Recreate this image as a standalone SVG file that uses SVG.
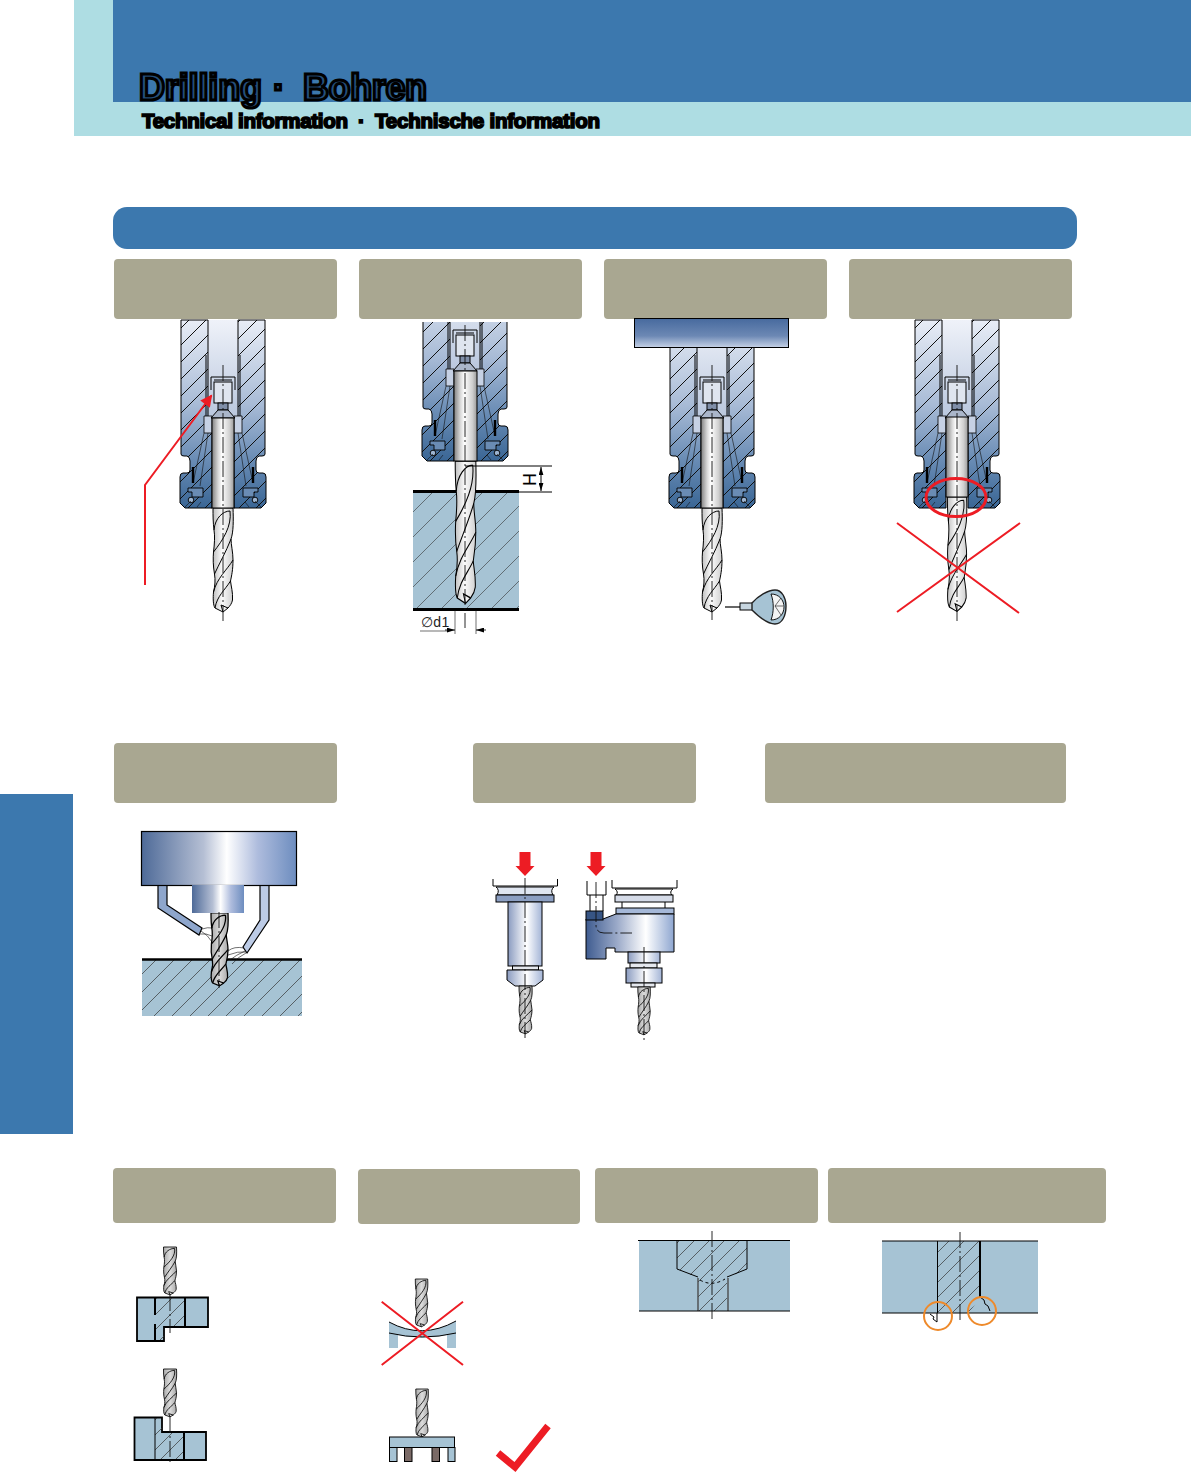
<svg xmlns="http://www.w3.org/2000/svg" width="1191" height="1472" viewBox="0 0 1191 1472">
<style>
text{font-family:"Liberation Sans",Arial,sans-serif}
.ln{fill:none;stroke:#000;stroke-width:1}
.th{fill:none;stroke:#111;stroke-width:.6}
.cl{fill:none;stroke:#111;stroke-width:.9;stroke-dasharray:16 3 2 3}
.ns{vector-effect:non-scaling-stroke}
.red{fill:none;stroke:#ed1c24;stroke-width:2}
.tan{fill:#a9a791}
.wp{fill:#a6c3d4}
.bk{fill:none;stroke:#000;stroke-linecap:butt}
.org{fill:none;stroke:#ee8a2b;stroke-width:2}
</style>
<defs>
<linearGradient id="bodyG" x1="0" y1="0" x2="0" y2="1"><stop offset="0" stop-color="#e8edf6"/><stop offset=".45" stop-color="#a8bbd6"/><stop offset=".75" stop-color="#688bb4"/><stop offset="1" stop-color="#3a6695"/></linearGradient>
<linearGradient id="boreG" x1="0" y1="0" x2="0" y2="1"><stop offset="0" stop-color="#eff2f9"/><stop offset="1" stop-color="#b9c7de"/></linearGradient>
<linearGradient id="shankG" x1="0" y1="0" x2="1" y2="0"><stop offset="0" stop-color="#808080"/><stop offset=".28" stop-color="#d8d8d8"/><stop offset=".45" stop-color="#fff"/><stop offset=".8" stop-color="#cfcfcf"/><stop offset="1" stop-color="#9a9a9a"/></linearGradient>
<linearGradient id="drillG" x1="0" y1="0" x2="1" y2="0"><stop offset="0" stop-color="#c0c0c0"/><stop offset=".45" stop-color="#fbfbfb"/><stop offset="1" stop-color="#cfcfcf"/></linearGradient>
<linearGradient id="drillD" x1="0" y1="0" x2="1" y2="0"><stop offset="0" stop-color="#a8a8a8"/><stop offset=".5" stop-color="#dcdcdc"/><stop offset="1" stop-color="#a8a8a8"/></linearGradient>
<linearGradient id="spinG" x1="0" y1="0" x2="1" y2="0"><stop offset="0" stop-color="#4e6a98"/><stop offset=".4" stop-color="#b5bfd4"/><stop offset=".55" stop-color="#fff"/><stop offset=".75" stop-color="#aebcdd"/><stop offset="1" stop-color="#6d8dbf"/></linearGradient>
<linearGradient id="toolG" x1="0" y1="0" x2="1" y2="0"><stop offset="0" stop-color="#8a9bc0"/><stop offset=".55" stop-color="#fff"/><stop offset="1" stop-color="#a3b4d6"/></linearGradient>
<linearGradient id="armG" x1="0" y1="0" x2="1" y2="0"><stop offset="0" stop-color="#3f5c90"/><stop offset=".35" stop-color="#9aa9c8"/><stop offset=".68" stop-color="#fff"/><stop offset="1" stop-color="#8ea6d0"/></linearGradient>
<linearGradient id="barG" x1="0" y1="0" x2="0" y2="1"><stop offset="0" stop-color="#476a9e"/><stop offset=".6" stop-color="#6c88b4"/><stop offset="1" stop-color="#c6d2e6"/></linearGradient>
<pattern id="h17" patternUnits="userSpaceOnUse" width="17" height="17"><path d="M-1,18 L18,-1" stroke="#111" stroke-width="1" fill="none"/></pattern>
<pattern id="h25" patternUnits="userSpaceOnUse" width="25" height="25"><path d="M-1,26 L26,-1" stroke="#333" stroke-width=".6" fill="none"/></pattern>
<pattern id="h18" patternUnits="userSpaceOnUse" width="18" height="18"><path d="M-1,19 L19,-1" stroke="#333" stroke-width=".7" fill="none"/></pattern>
<pattern id="h15" patternUnits="userSpaceOnUse" width="15" height="15"><path d="M-1,16 L16,-1" stroke="#333" stroke-width=".7" fill="none"/></pattern>
<marker id="ah" viewBox="0 0 10 10" refX="9" refY="5" markerWidth="7" markerHeight="6" orient="auto" markerUnits="strokeWidth"><path d="M0,0 L10,5 L0,10 Z" fill="#ed1c24"/></marker>
<marker id="dim" viewBox="0 0 10 6" refX="10" refY="3" markerWidth="8" markerHeight="5" orient="auto-start-reverse" markerUnits="userSpaceOnUse"><path d="M0,0 L10,3 L0,6 Z" fill="#000"/></marker>
<path id="halfL" d="M-42,0 V134 Q-42,136 -39,136 H-36 Q-33,137 -33,141 V150 Q-33,153 -36,153 H-40 Q-43,153 -43,157 V183 L-38,188 H-11 V98 H-15 V0 Z"/>
<path id="halfR" d="M42,0 V134 Q42,136 39,136 H36 Q33,137 33,141 V150 Q33,153 36,153 H40 Q43,153 43,157 V183 L38,188 H11 V98 H15 V0 Z"/>
<g id="halfD">
<path d="M-17,35 V96" class="ln"/>
<path d="M-19,96 H-11 V113 H-19 Z" fill="#c6d1e4" stroke="#000" stroke-width=".8"/>
<path d="M-19,113 L-30,163 M-15,113 L-23,166" class="th"/>
<path d="M-30,147 V163" stroke="#000" stroke-width="2.4" fill="none"/>
<path d="M-35,168 H-20 V172 H-20 V177 H-31 V172 H-35 Z" fill="#6a8cb4" stroke="#000" stroke-width=".9"/>
<circle cx="-32" cy="180" r="2.8" fill="#9db4d0" stroke="#000" stroke-width=".9"/>
<path d="M-38,187 L-32,181 M-26,187 L-22,182" class="th"/>
</g>
<g id="holder">
<rect x="-15" y="0" width="30" height="98" fill="url(#boreG)"/>
<use href="#halfL" fill="url(#bodyG)"/>
<use href="#halfR" fill="url(#bodyG)"/>
<use href="#halfL" fill="url(#h17)" stroke="#000" stroke-width="1"/>
<use href="#halfR" fill="url(#h17)" stroke="#000" stroke-width="1"/>
<use href="#halfD"/>
<use href="#halfD" transform="scale(-1,1)"/>
<path d="M-12,70 V57 H12 V70 M-9,60 H9" class="ln"/>
<rect x="-9" y="62" width="18" height="21" fill="#dfe5ef" stroke="#000" stroke-width="1"/>
<rect x="-5" y="83" width="10" height="7" fill="#7f8ea8" stroke="#000" stroke-width="1"/>
<path d="M-5,90 L-12,98 H12 L5,90 Z" fill="#aab6ca" stroke="#000" stroke-width="1"/>
</g>
<path id="drillP" d="M-10,0 H10 C10.5,12 10.5,24 8,31 C8,37 10,44 10,52 C10,62 8.5,68 7.5,73 C8,78 10,84 9.5,92 C9,95 7,98 5,100 L0,104 L-8,100 C-10,97 -10,90 -9.5,84 C-8,78 -7.5,72 -8.5,66 C-10,58 -10,50 -9.5,44 C-8.5,36 -8,28 -9,22 C-10,14 -10,8 -10,0 Z"/>
<path id="drillF" d="M7,3 C0,3 -8,10 -9,22 M7,3 C9,18 0,32 -9.5,44 M8,31 C3,44 -4,56 -8.5,66 M10,52 C4,62 -6,70 -9.5,84 M7.5,73 C2,82 -6,88 -8,100 M0,104 L-2,97 L5,100"/>
<g id="drill"><use href="#drillP" fill="url(#drillG)" stroke="#000" stroke-width="1" class="ns"/><use href="#drillF" fill="none" stroke="#000" stroke-width="1" class="ns"/></g>
<g id="drillS"><use href="#drillP" fill="url(#drillD)" stroke="#000" stroke-width="1.5" class="ns"/><use href="#drillF" fill="none" stroke="#000" stroke-width="1.5" class="ns"/></g>
<clipPath id="c2"><rect x="400" y="322" width="140" height="160"/></clipPath>
</defs>

<rect width="1191" height="1472" fill="#fff"/>

<g id="header">
<rect x="74" y="0" width="1117" height="136" fill="#aedde3"/>
<rect x="113" y="0" width="1078" height="102" fill="#3c78ae"/>
<text y="100" font-size="36" font-weight="bold" fill="#254f7c" stroke="#000" stroke-width="3"><tspan x="139" textLength="123">Drilling</tspan><tspan x="273">·</tspan><tspan x="303" textLength="124">Bohren</tspan></text>
<text y="128" font-size="20.5" font-weight="bold" fill="#000" stroke="#000" stroke-width="1.7"><tspan x="142" textLength="206">Technical information</tspan><tspan x="358">·</tspan><tspan x="375" textLength="225">Technische information</tspan></text>
</g>
<rect id="side-tab" x="0" y="794" width="73" height="340" fill="#3c78ae"/>
<rect id="title-bar" x="113" y="207" width="964" height="42" rx="14" fill="#3c78ae"/>

<g id="heads">
<rect class="tan" x="114" y="259" width="223" height="60" rx="4"/>
<rect class="tan" x="359" y="259" width="223" height="60" rx="4"/>
<rect class="tan" x="604" y="259" width="223" height="60" rx="4"/>
<rect class="tan" x="849" y="259" width="223" height="60" rx="4"/>
<rect class="tan" x="114" y="743" width="223" height="60" rx="4"/>
<rect class="tan" x="473" y="743" width="223" height="60" rx="4"/>
<rect class="tan" x="765" y="743" width="301" height="60" rx="4"/>
<rect class="tan" x="113" y="1168" width="223" height="55" rx="4"/>
<rect class="tan" x="358" y="1169" width="222" height="55" rx="4"/>
<rect class="tan" x="595" y="1168" width="223" height="55" rx="4"/>
<rect class="tan" x="828" y="1168" width="278" height="55" rx="4"/>
</g>

<g id="fig1">
<use href="#holder" transform="translate(223,320)"/>
<use href="#drill" transform="translate(223,508)"/>
<rect x="212" y="418" width="22" height="90" fill="url(#shankG)" stroke="#000"/>
<path class="cl" d="M223,365 V622"/>
</g>

<g id="fig2">
<rect class="wp" x="413" y="491" width="106" height="119"/>
<rect x="413" y="491" width="106" height="119" fill="url(#h25)"/>
<path class="bk" stroke-width="3" d="M413,491.5 H519 M413,609.5 H519"/>
<g clip-path="url(#c2)"><use href="#holder" transform="translate(465,273)"/></g>
<use href="#drill" transform="translate(465.5,461) scale(1.03,1.37)"/>
<rect x="454" y="371" width="23" height="90" fill="url(#shankG)" stroke="#000"/>
<path class="cl" d="M465,325 V628"/>
<path class="ln" stroke-width=".8" d="M465,466 H552 M480,492 H552"/>
<path class="ln" stroke-width=".8" d="M541,467 V491" marker-start="url(#dim)" marker-end="url(#dim)"/>
<text font-size="18" transform="translate(536,486) rotate(-90)">H</text>
<path class="th" d="M455,610 V634 M476,610 V634 M420,631 H448"/>
<path class="ln" style="stroke-width:.8" d="M445,630 H455" marker-end="url(#dim)"/>
<path class="ln" style="stroke-width:.8" d="M486,630 H476" marker-end="url(#dim)"/>
<text x="421" y="627" font-size="14" letter-spacing=".3" fill="#222">∅d1</text>
</g>

<g id="fig3">
<use href="#holder" transform="translate(712,320)"/>
<use href="#drill" transform="translate(712,508)"/>
<rect x="701" y="418" width="22" height="90" fill="url(#shankG)" stroke="#000"/>
<path class="cl" d="M712,365 V620"/>
<rect x="634.5" y="318.5" width="154" height="29" fill="url(#barG)" stroke="#000"/>
<path d="M725,607 H740" stroke="#000" stroke-width="1.2" fill="none"/>
<rect x="740" y="603" width="13" height="7" fill="#c7d6e0" stroke="#000"/>
<path d="M752,603 C758,596 768,590 775,590 C782,590 786,598 786,606 C786,616 782,624 775,624 C768,624 758,616 752,610 Z" fill="#a6c3d4" stroke="#222" stroke-width="1.4"/>
<path d="M771,594 C779,594 784,600 784,607 C784,614 779,620 771,620 C774,612 774,602 771,594 Z" fill="#f4f4f4" stroke="#000" stroke-width=".9"/>
<path d="M775,606 L783,606 M775,606 L781,598 M775,606 L781,615" class="th"/>
</g>

<g id="fig4">
<use href="#holder" transform="translate(957,320)"/>
<use href="#drill" transform="translate(957,497) scale(.96,1.1)"/>
<rect x="946" y="417" width="22" height="80" fill="url(#shankG)" stroke="#000"/>
<path class="cl" d="M957,365 V621"/>
<ellipse class="red" style="stroke-width:3" cx="956" cy="497.5" rx="30" ry="19"/>
<path class="red" d="M897,523 L1019,613 M1020,523 L897,612"/>
</g>

<g id="fig5">
<rect class="wp" x="142" y="960" width="160" height="56"/>
<rect x="142" y="960" width="160" height="56" fill="url(#h18)"/>
<path class="bk" stroke-width="2.5" d="M142,959.5 H302"/>
<path d="M158,885 H167 V905 L202,928 L199,935 L158,908 Z" fill="#8ea6cc" stroke="#000" stroke-width="1.2"/>
<path d="M260,885 H269 V920 L247,953 L243,947 L260,920 Z" fill="#bccbe6" stroke="#000" stroke-width="1.2"/>
<path class="th" d="M202,929 Q208,927 212,928 M200,934 Q206,933 212,936 M201,931 Q208,935 212,942 M244,948 Q234,946 228,951 M246,952 Q238,951 228,955 M245,951 Q236,955 230,960 M246,953 Q238,957 232,964"/>
<use href="#drillS" transform="translate(219.5,913) scale(.85,.7)"/>
<rect x="141.5" y="831.5" width="155" height="54" fill="url(#spinG)" stroke="#000" stroke-width="1.2"/>
<rect x="192" y="885" width="52" height="28" fill="url(#spinG)"/>
<path class="cl" d="M219,912 V988"/>
</g>

<g id="fig6">
<path d="M525,852 m-5.5,0 h11 v14 h4 l-9.5,10 l-9.5,-10 h4 z" fill="#ed1c24"/>
<path class="ln" d="M493,879 V886 H557.5 V879"/>
<path d="M496,887 Q500,890 497,895 H553 Q550,890 554,887 Z" fill="#dfe5f0" stroke="#000"/>
<rect x="496" y="895" width="58" height="7" fill="#8c9fc2" stroke="#000"/>
<rect x="508" y="902" width="34" height="64" fill="url(#toolG)" stroke="#000"/>
<rect x="512.5" y="966" width="26" height="4" fill="#e5e8ee" stroke="#000"/>
<path d="M507,970 H543 V980 L535,986 H515 L507,980 Z" fill="url(#toolG)" stroke="#000"/>
<use href="#drillS" transform="translate(525.5,986) scale(.65,.46)"/>
<path class="cl" d="M525,878 V1038"/>
</g>

<g id="fig7">
<path d="M596,852 m-5.5,0 h11 v14 h4 l-9.5,10 l-9.5,-10 h4 z" fill="#ed1c24"/>
<path class="ln" d="M587,881 V895 H606 V881 M590,895 V911 M603,895 V911"/>
<path class="ln" d="M612,880 V888 H677 V880"/>
<path d="M615,889 Q619,892 616,895 H672 Q669,892 673,889 Z" fill="#fff" stroke="#000"/>
<rect x="615" y="895" width="58" height="7" fill="#d5dbe8" stroke="#000"/>
<path class="ln" d="M622,902 V908 M665,902 V908"/>
<rect x="616" y="908" width="58" height="6" fill="#a5b8d8" stroke="#000"/>
<path d="M586,919 H603 L616,914 H674 V952 H615 V948 H606 V959 H586 Z" fill="url(#armG)" stroke="#000"/>
<rect x="586" y="911" width="17" height="9" fill="#375584" stroke="#000"/>
<rect x="628" y="952" width="32" height="11" fill="url(#toolG)" stroke="#000"/>
<rect x="630" y="963" width="27" height="5" fill="#e5e8ee" stroke="#000"/>
<rect x="626" y="968" width="36" height="15" fill="url(#toolG)" stroke="#000"/>
<rect x="631" y="983" width="24" height="4" fill="#e5e8ee" stroke="#000"/>
<use href="#drillS" transform="translate(644,987) scale(.62,.46)"/>
<path class="cl" d="M644,947 V1040"/>
<path class="cl" d="M596,882 V925 Q596,933 604,933 H632"/>
</g>

<g id="fig8">
<use href="#drillS" transform="translate(170,1247) scale(.65,.46)"/>
<path d="M137,1297.5 H208 V1327 H164 V1341 H137 Z" class="wp" stroke="#000" stroke-width="1.8"/>
<path d="M155,1298 H185 V1326 H164 V1340 H155 Z" fill="url(#h15)"/>
<path class="bk" stroke-width="2" d="M155,1298 V1315 M155,1324 V1341 M185,1298 V1327"/>
<path class="cl" d="M170,1295 V1333"/>
</g>

<g id="fig9">
<use href="#drillS" transform="translate(170,1369) scale(.65,.46)"/>
<path d="M134.5,1417.5 H162 V1432 H206 V1460 H134.5 Z" class="wp" stroke="#000" stroke-width="1.8"/>
<path d="M155,1418 H162 V1433 H184 V1459 H155 Z" fill="url(#h15)"/>
<path class="bk" stroke-width="1" d="M155,1418 V1460"/>
<path class="bk" stroke-width="2" d="M184,1432 V1460"/>
<path class="cl" d="M170,1417 V1464"/>
</g>

<g id="fig10">
<path d="M389,1322 Q422,1340 456,1321 V1348 H447 V1335 Q422,1340 398,1335 V1348 H389 Z" class="wp"/>
<path class="ln" stroke-width=".9" d="M389,1322 Q422,1340 456,1321 M389,1333 Q422,1341 456,1333"/>
<use href="#drillS" transform="translate(421.5,1279) scale(.62,.46)"/>
<path class="red" d="M381.7,1301.7 L463,1365 M463,1301.7 L381.7,1365"/>
</g>

<g id="fig11">
<use href="#drillS" transform="translate(422,1389) scale(.62,.46)"/>
<rect class="wp" x="389.5" y="1437" width="65" height="10.5" stroke="#000"/>
<rect class="wp" x="389.5" y="1447.5" width="7.5" height="14" stroke="#000"/>
<rect x="404.5" y="1447.5" width="7.5" height="14" fill="#7a6a66" stroke="#000"/>
<rect x="432" y="1447.5" width="7.5" height="14" fill="#7a6a66" stroke="#000"/>
<rect class="wp" x="448" y="1447.5" width="7" height="14" stroke="#000"/>
<path d="M498,1453 L515,1467 L548,1426" fill="none" stroke="#ed1c24" stroke-width="7"/>
</g>

<g id="fig12">
<rect class="wp" x="639" y="1241" width="151" height="70"/>
<path d="M677,1241 H747 V1269 L727,1278 V1311 H698 V1278 L677,1269 Z" fill="url(#h15)"/>
<path class="ln" d="M677,1241 V1269 L698,1277 M747,1241 V1269 L727,1277"/>
<path class="ln" style="stroke-width:1.3;stroke:#444" d="M698,1278 V1311 M728,1278 V1311"/>
<path class="ln" style="stroke-dasharray:3 3" d="M700,1280 Q712,1287 725,1279"/>
<path class="ln" d="M638,1240.5 H790 M639,1311 H790"/>
<path class="cl" d="M712,1231 V1320"/>
</g>

<g id="fig13">
<rect class="wp" x="882" y="1241" width="156" height="72"/>
<path d="M937,1241 H980 V1297 L969,1313 H937 Z" fill="url(#h15)"/>
<path d="M980,1297 L984,1300 L985,1304 L988,1306 L990,1311" fill="none" stroke="#000"/>
<path class="ln" d="M937.5,1241 V1313"/>
<path class="bk" stroke-width="2" d="M980,1241 V1297"/>
<path d="M930,1314 L934,1317 L933,1319 L937,1322 V1313" fill="#fff" stroke="#000"/>
<path class="ln" d="M882,1241 H1038 M882,1313 H1038"/>
<path class="cl" d="M960,1232 V1321"/>
<circle class="org" cx="938" cy="1316" r="14"/>
<circle class="org" cx="982" cy="1311" r="14"/>
</g>

<g id="connectors">
<path class="red" d="M145,585 V485 L211.5,395.5" marker-end="url(#ah)"/>
</g>
</svg>
